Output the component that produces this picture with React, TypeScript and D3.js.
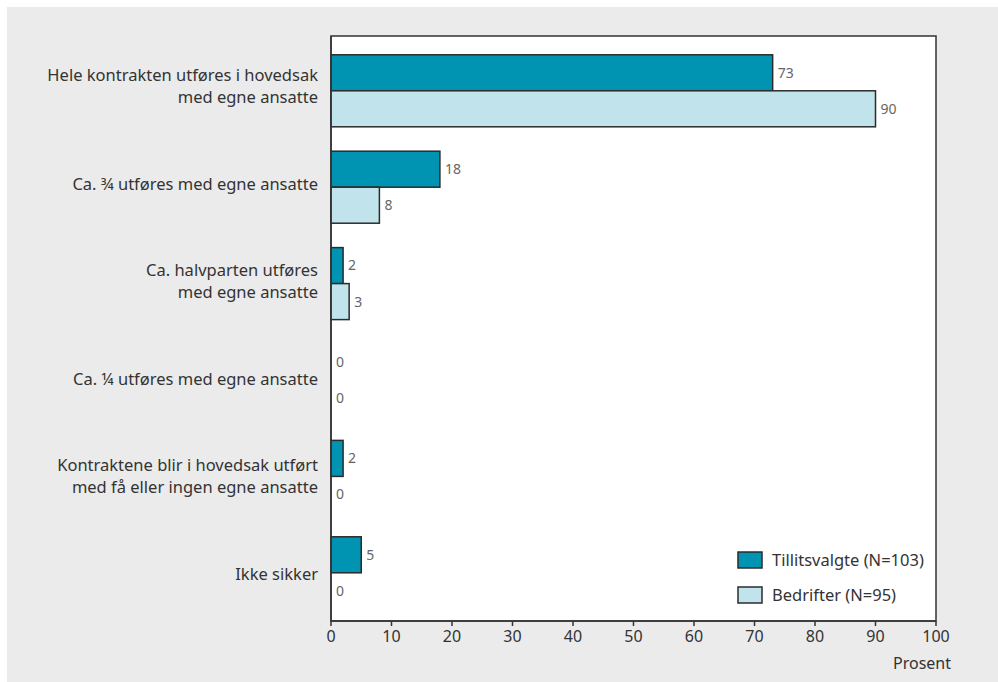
import React from "react";
import * as d3 from "d3";

const categories: string[][] = [
  ["Hele kontrakten utføres i hovedsak", "med egne ansatte"],
  ["Ca. ¾ utføres med egne ansatte"],
  ["Ca. halvparten utføres", "med egne ansatte"],
  ["Ca. ¼ utføres med egne ansatte"],
  ["Kontraktene blir i hovedsak utført", "med få eller ingen egne ansatte"],
  ["Ikke sikker"],
];
const tillitsvalgte = [73, 18, 2, 0, 2, 5];
const bedrifter = [90, 8, 3, 0, 0, 0];
const seriesNames = ["Tillitsvalgte (N=103)", "Bedrifter (N=95)"];
const xTicks = [0, 10, 20, 30, 40, 50, 60, 70, 80, 90, 100];
const xTitle = "Prosent";

const W = 998;
const H = 682;
const left = 331;
const right = 936;
const top = 36;
const bottom = 621;
const colors = ["#0093b2", "#c1e4ec"];
const font = "'Noto Sans', 'Open Sans', sans-serif";

export default function App() {
  const x = d3.scaleLinear().domain([0, 100]).range([left, right]);
  const idx = categories.map((_, i) => i);
  const yLabel = d3.scaleBand<number>().domain(idx).range([top, bottom]);
  const yBar = d3
    .scaleBand<number>()
    .domain(idx)
    .range([42.6, bottom])
    .paddingInner(0.253)
    .paddingOuter(0.1265);
  const inner = d3.scaleBand<number>().domain([0, 1]).range([0, yBar.bandwidth()]);
  const series = [tillitsvalgte, bedrifter];

  return (
    <svg
      width={W}
      height={H}
      style={{ position: "absolute", left: 0, top: 0, display: "block" }}
      fontFamily={font}
    >
      <rect x={7} y={7} width={W - 7} height={H - 7} fill="#ebebeb" />
      <rect x={left} y={top} width={right - left} height={bottom - top} fill="#ffffff" stroke="#333" strokeWidth={1.5} />
      {series.map((vals, s) =>
        vals.map((v, i) => {
          const y0 = (yBar(i) as number) + (inner(s) as number);
          const h = inner.bandwidth();
          return (
            <g key={`b${s}-${i}`}>
              {v > 0 && (
                <rect
                  x={x(0)}
                  y={y0}
                  width={x(v) - x(0)}
                  height={h}
                  fill={colors[s]}
                  stroke="#2b2b2b"
                  strokeWidth={1.5}
                />
              )}
              <text x={x(v) + 5} y={y0 + h / 2} dy="0.35em" fontSize={14} fill="#666">
                {v}
              </text>
            </g>
          );
        })
      )}
      {categories.map((lines, i) => {
        const cy = (yLabel(i) as number) + yLabel.bandwidth() / 2 + 1.5;
        const lh = 22;
        const start = cy - ((lines.length - 1) * lh) / 2;
        return (
          <text key={`c${i}`} textAnchor="end" fontSize={16.5} fill="#333">
            {lines.map((l, j) => (
              <tspan key={j} x={318} y={start + j * lh} dy="0.35em">
                {l}
              </tspan>
            ))}
          </text>
        );
      })}
      <line x1={left} x2={right} y1={bottom} y2={bottom} stroke="#333" strokeWidth={1.5} />
      <line x1={left} x2={left} y1={top} y2={bottom} stroke="#333" strokeWidth={1.5} />
      {xTicks.map((t) => (
        <g key={`t${t}`}>
          <line x1={x(t)} x2={x(t)} y1={bottom} y2={bottom + 5} stroke="#333" strokeWidth={1.5} />
          <text x={x(t)} y={bottom + 15.5} dy="0.35em" textAnchor="middle" fontSize={16} fill="#333">
            {t}
          </text>
        </g>
      ))}
      <text x={951} y={663} dy="0.35em" textAnchor="end" fontSize={16} fill="#333">
        {xTitle}
      </text>
      {seriesNames.map((n, s) => (
        <g key={`l${s}`} transform={`translate(738, ${552 + s * 35})`}>
          <rect x={0} y={0} width={24} height={16} fill={colors[s]} stroke="#2b2b2b" strokeWidth={1.5} />
          <text x={34} y={8} dy="0.35em" fontSize={16.5} fill="#333">
            {n}
          </text>
        </g>
      ))}
    </svg>
  );
}
